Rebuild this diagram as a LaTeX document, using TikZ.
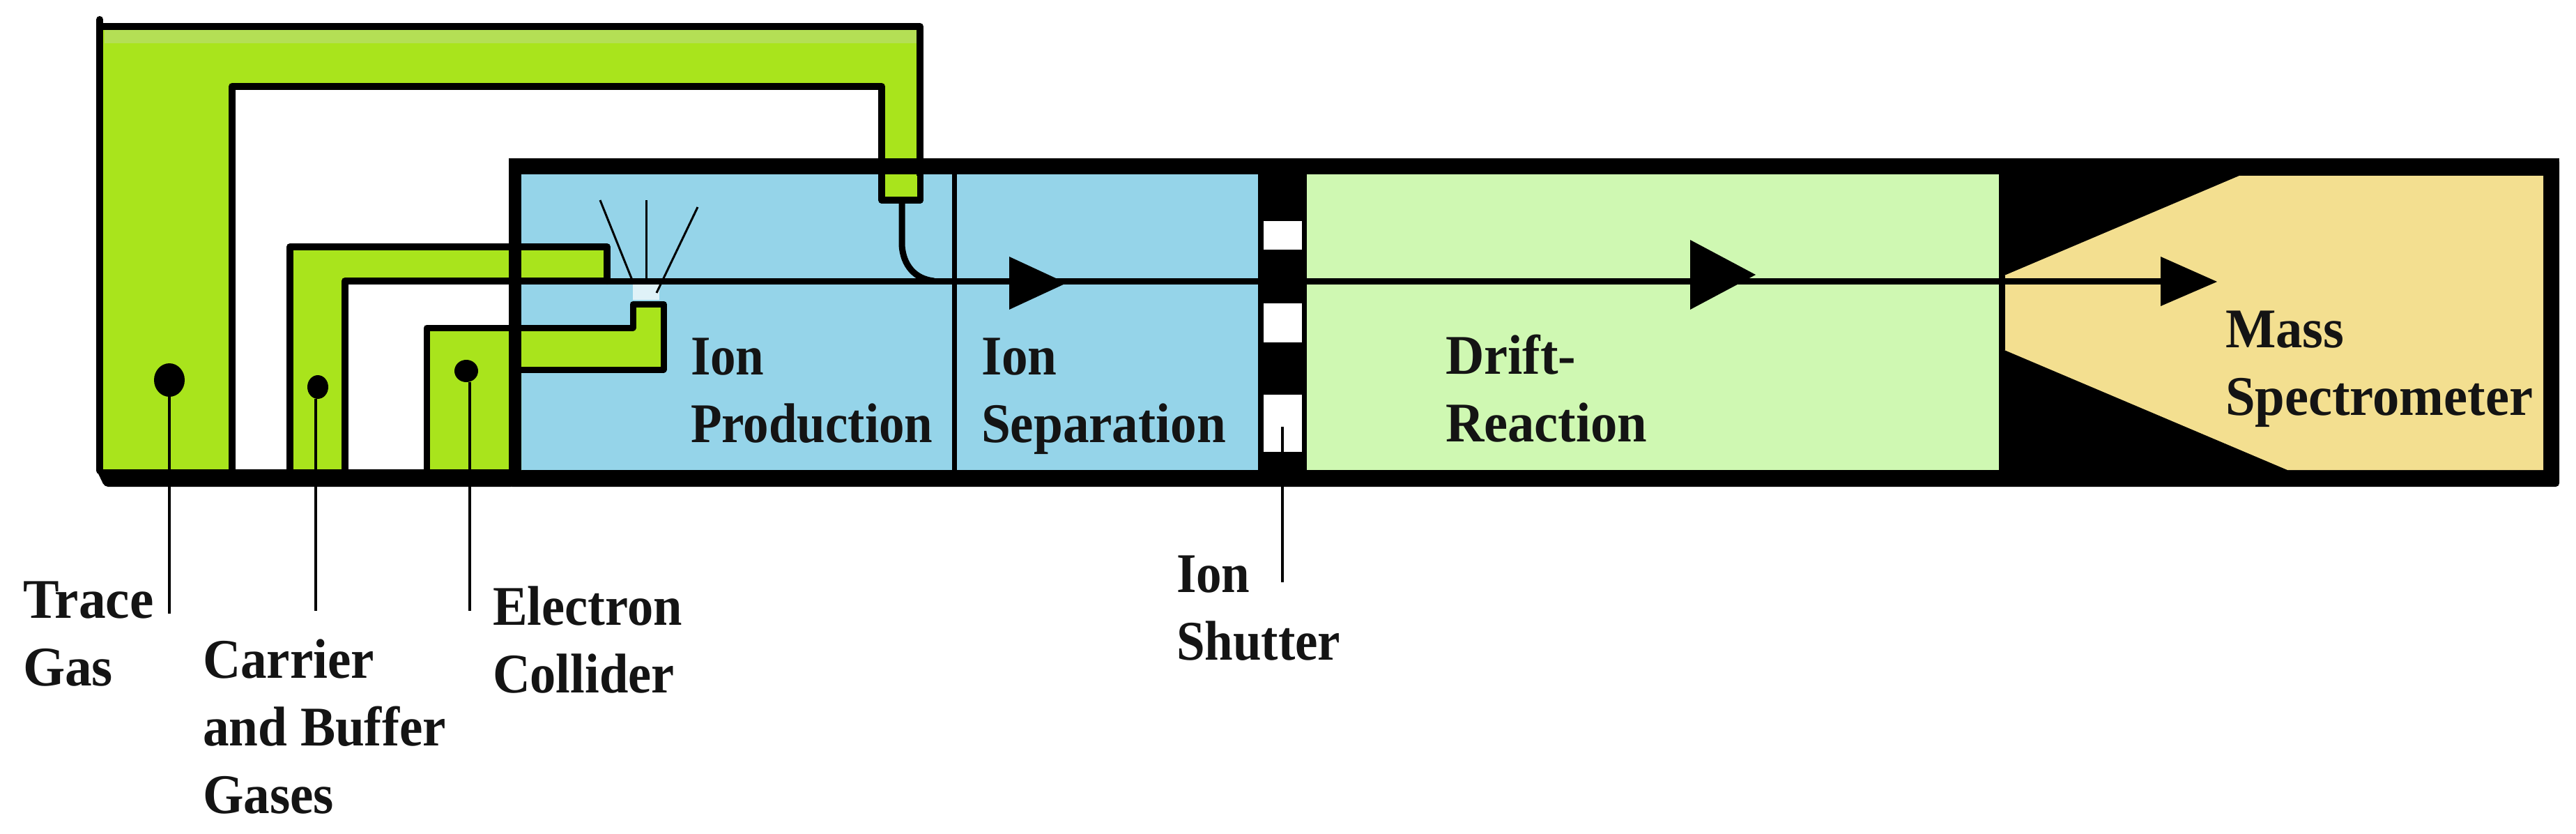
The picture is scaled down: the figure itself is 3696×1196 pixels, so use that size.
\documentclass[tikz,border=0pt]{standalone}
\usepackage{fontspec}
\setmainfont{Liberation Serif}
\usetikzlibrary{shapes.geometric}
\definecolor{lime}{HTML}{A9E41C}
\definecolor{limetop}{HTML}{B4DF55}
\definecolor{ionblue}{HTML}{95D4E9}
\definecolor{driftgreen}{HTML}{CFF8B2}
\definecolor{masstan}{HTML}{F3DF90}
\tikzset{
  x=1pt,y=-1pt,
  wall/.style={draw=black,line width=10pt,line cap=round,line join=round},
  beam/.style={draw=black,line width=9pt},
  ray/.style={draw=black,line width=3pt},
  leader/.style={draw=black,line width=4pt},
  solidblack/.style={fill=black,draw=none},
  gas/.style={fill=lime,draw=none},
  head/.style={fill=black,draw=none},
  dot/.style={ellipse,fill=black,draw=none,inner sep=0pt,minimum width=#1},
  lab/.style={anchor=north west,inner sep=0pt,outer sep=0pt,align=left,yscale=1.1,text=black!92,
    font=\fontsize{73}{88}\selectfont\bfseries,
    execute at begin node={\rule{0pt}{60pt}}}
}
\begin{document}
\begin{tikzpicture}
\useasboundingbox[fill=white] (0,0) rectangle (3696,1196);

% instrument body and chambers
\fill[solidblack,rounded corners=5pt] (730,227) rectangle (3672,698);
\fill[fill=ionblue] (748,250) rectangle (1805,674);
\fill[fill=driftgreen] (1875,250) rectangle (2868,674);
\fill[fill=masstan] (2876,395) -- (3213,252) -- (3649,252) -- (3649,674) -- (3282,674) -- (2876,502) -- cycle;

% trace gas line
\fill[gas] (143,38) -- (1320,38) -- (1320,287) -- (1265,287) -- (1265,124) -- (333,124) -- (333,675) -- (143,675) -- cycle;
\fill[fill=limetop] (150,43) rectangle (1315,62);
\draw[wall] (143,28) -- (143,675);
\draw[wall] (143,38) -- (1320,38) -- (1320,287) -- (1265,287) -- (1265,124) -- (333,124) -- (333,675);
\draw[beam,line width=9pt] (1294,290) -- (1294,352) .. controls (1296,380) and (1312,400) .. (1340,403);

% carrier and buffer gas line
\fill[gas] (416,354) -- (871,354) -- (871,403) -- (495,403) -- (495,675) -- (416,675) -- cycle;
\draw[wall] (416,675) -- (416,354) -- (871,354) -- (871,403);
\draw[wall] (495,675) -- (495,403) -- (871,403);

% electron collider line
\fill[gas] (612,470) -- (908,470) -- (908,436) -- (952,436) -- (952,530) -- (748,530) -- (748,675) -- (612,675) -- cycle;
\draw[wall,line width=9pt] (612,675) -- (612,470) -- (908,470) -- (908,436) -- (952,436) -- (952,530) -- (748,530);
\fill[fill=white!70!ionblue] (908,408) rectangle (946,430);

% walls redrawn above the gas lines
\fill[solidblack] (730,227) rectangle (3672,250);
\fill[solidblack] (730,227) rectangle (748,698);
\fill[solidblack,rounded corners=5pt] (138,673) -- (738,673) -- (738,698) -- (150,698) -- cycle;
\fill[fill=lime] (1270,252) rectangle (1316,282);
\draw[wall,line width=9pt,line cap=butt] (1265,250) -- (1265,287) -- (1320,287) -- (1320,250);

% divider
\draw[draw=black,line width=7pt] (1369,250) -- (1369,674);

% shutter gaps
\fill[fill=white] (1813,317) rectangle (1868,358);
\fill[fill=white] (1813,435) rectangle (1868,491);
\fill[fill=white] (1813,566) rectangle (1868,648);

% ion beam
\coordinate (beamA) at (871,403);
\coordinate (beamB) at (1805,403);
\coordinate (beamC) at (1875,403);
\coordinate (beamD) at (3103,403);
\draw[beam] (beamA) -- (beamB);
\draw[beam] (beamC) -- (beamD);
\draw[draw=black,line width=6pt] (2874,395) -- (2874,502);
\fill[head] (1448,368) -- (1530,406) -- (1448,444) -- cycle;
\fill[head] (2425,344) -- (2519,394) -- (2425,444) -- cycle;
\fill[head] (3100,368) -- (3181,404) -- (3100,439) -- cycle;

% spray lines
\draw[ray] (861,287) -- (908,404);
\draw[ray] (927,287) -- (927,404);
\draw[ray] (1001,297) -- (942,420);

% feed dots and leader lines
\node[dot=44pt,minimum height=48pt] (dotTrace) at (243,545) {};
\node[dot=30pt,minimum height=34pt] (dotCarrier) at (456,555) {};
\node[dot=34pt,minimum height=32pt] (dotElectron) at (669,532) {};
\coordinate (endTrace) at (243,880);
\coordinate (endCarrier) at (453,876);
\coordinate (endElectron) at (674,876);
\coordinate (shutterTop) at (1840,612);
\coordinate (shutterEnd) at (1840,835);
\draw[leader] (dotTrace.south) -- (endTrace);
\draw[leader] (dotCarrier.south -| endCarrier) -- (endCarrier);
\draw[leader] (dotElectron.south -| endElectron) -- (endElectron);
\draw[leader] (shutterTop) -- (shutterEnd);

% labels
\node[lab] (lProd) at (991,485) {Ion\\Production};
\node[lab,xscale=1.03] (lSep) at (1408,485) {Ion\\Separation};
\node[lab,xscale=1.05] (lDrift) at (2074,480) {Drift-\\Reaction};
\node[lab,xscale=1.05] (lMass) at (3193,446) {Mass\\Spectrometer};
\node[lab] (lShutter) at (1688,797) {Ion\\Shutter};
\node[lab,xscale=1.06] (lTrace) at (33,834) {Trace\\Gas};
\node[lab,xscale=1.03] (lCarrier) at (291,917) {Carrier\\and Buffer\\Gases};
\node[lab,xscale=1.02] (lElectron) at (707,841) {Electron\\Collider};
\end{tikzpicture}
\end{document}
